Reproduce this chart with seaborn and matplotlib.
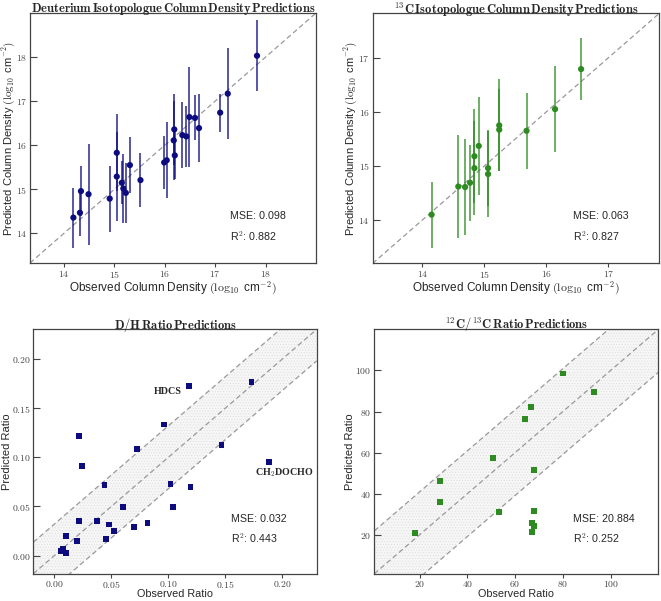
import numpy as np
import matplotlib
matplotlib.use("Agg")
import matplotlib.pyplot as plt
from matplotlib.ticker import FuncFormatter
import seaborn as sns

# deuterium isotopologue column densities
d_obs = [14.19, 14.32, 14.34, 14.49, 14.91, 15.05, 15.05, 15.15, 15.18, 15.23, 15.31, 15.52,
         15.99, 16.04, 16.18, 16.19, 16.20, 16.35, 16.43, 16.49, 16.60, 16.68, 17.10, 17.25, 17.83]
d_pred = [14.36, 14.47, 14.96, 14.89, 14.79, 15.83, 15.29, 15.15, 15.02, 14.92, 15.55, 15.21,
          15.61, 15.66, 16.11, 16.36, 15.77, 16.23, 16.20, 16.64, 16.62, 16.39, 16.74, 17.17, 18.03]
d_err = [0.68, 0.53, 0.56, 1.15, 0.75, 0.87, 1.00, 0.49, 0.78, 0.68, 0.63, 0.62,
         0.60, 0.86, 0.89, 0.81, 0.54, 0.74, 0.70, 1.14, 0.51, 0.77, 0.43, 1.03, 0.80]

# 13C isotopologue column densities
c_obs = [14.15, 14.58, 14.69, 14.77, 14.84, 14.84, 14.91, 15.06, 15.06, 15.24, 15.24, 15.68, 16.14, 16.56]
c_pred = [14.10, 14.62, 14.61, 14.69, 15.18, 14.96, 15.37, 14.96, 14.85, 15.75, 15.67, 15.65, 16.05, 16.79]
c_err = [0.61, 0.95, 0.88, 0.70, 0.87, 0.87, 0.90, 0.70, 0.80, 0.85, 0.76, 0.70, 0.80, 0.58]

# D/H ratios
dh_obs = [0.0053, 0.0073, 0.0105, 0.0102, 0.0202, 0.0219, 0.0219, 0.0243, 0.0374, 0.0439, 0.0450,
          0.0482, 0.0523, 0.0605, 0.0699, 0.0725, 0.0816, 0.0959, 0.1018, 0.1041, 0.1181, 0.1193,
          0.1465, 0.1728, 0.1883]
dh_pred = [0.0042, 0.0066, 0.0024, 0.0202, 0.0150, 0.0347, 0.1219, 0.0909, 0.0347, 0.0714, 0.0172,
           0.0316, 0.0249, 0.0492, 0.0286, 0.1088, 0.0333, 0.1333, 0.0731, 0.0492, 0.1724, 0.0697,
           0.1121, 0.1764, 0.0953]

# 12C/13C ratios
cc_obs = [17.9, 28.4, 28.4, 50.6, 53.4, 64.0, 66.6, 67.8, 67.8, 67.2, 68.0, 67.1, 79.9, 92.9]
cc_pred = [21.0, 46.0, 36.1, 57.4, 30.9, 76.5, 82.0, 51.4, 31.6, 25.6, 24.3, 21.2, 98.5, 89.4]

metrics = [("0.098", "0.882"), ("0.063", "0.827"), ("0.032", "0.443"), ("20.884", "0.252")]
band = [None, None, 0.032, 20.884]

sns.set_style("ticks")
plt.rcParams["mathtext.fontset"] = "cm"
plt.rcParams["font.family"] = ["Liberation Sans", "DejaVu Sans"]
plt.rcParams["hatch.linewidth"] = 0.4

fig = plt.figure(figsize=(6.61, 6.01), dpi=100)
rects = [[0.0454, 0.5624, 0.4327, 0.4160],
         [0.5638, 0.5618, 0.4336, 0.4160],
         [0.0504, 0.0454, 0.4287, 0.4065],
         [0.5663, 0.0454, 0.4297, 0.4065]]
axes = [fig.add_axes(r) for r in rects]

navy = "#0c0c80"
green = "#2e8b22"

titles = [r"$\mathbf{Deuterium\,Isotopologue\,Column\,Density\,Predictions}$",
          r"$\mathbf{^{13}C\,Isotopologue\,Column\,Density\,Predictions}$",
          r"$\mathbf{D/H\,Ratio\,Predictions}$",
          r"$\mathbf{^{12}C/^{13}C\,Ratio\,Predictions}$"]
lims = [(13.33, 19.0), (13.2, 17.82), (-0.0185, 0.23), (1.0, 120.0)]
ticks = [[14, 15, 16, 17, 18], [14, 15, 16, 17], [0.0, 0.05, 0.10, 0.15, 0.20], [20, 40, 60, 80, 100]]
xlabels = [r"Observed Column Density $(\log_{10}$ cm$^{-2})$"] * 2 + ["Observed Ratio"] * 2
ylabels = [r"Predicted Column Density $(\log_{10}$ cm$^{-2})$"] * 2 + ["Predicted Ratio"] * 2
ylab_x = [-0.047, -0.049, -0.075, -0.068]
xlab_y = [-0.066, -0.066, -0.063, -0.063]
xlab_size = [8.5, 8.5, 7.8, 7.8]
xpad = [1, 1, 0.5, 0.5]
title_y = [0.9985, 0.9985, 0.474, 0.474]

# column density panels with error bars
for ax, xs, ys, es, col in [(axes[0], d_obs, d_pred, d_err, navy), (axes[1], c_obs, c_pred, c_err, green)]:
    ax.errorbar(xs, ys, yerr=es, fmt="none", ecolor=col, elinewidth=1.3, alpha=0.75, zorder=2)
    sns.scatterplot(x=xs, y=ys, ax=ax, color=col, marker="o", s=20, edgecolor="none", zorder=3)

# ratio panels
for ax, xs, ys, col in [(axes[2], dh_obs, dh_pred, navy), (axes[3], cc_obs, cc_pred, green)]:
    sns.scatterplot(x=xs, y=ys, ax=ax, color=col, marker="s", s=18, edgecolor="none", zorder=3)

for i, ax in enumerate(axes):
    lo, hi = lims[i]
    line = np.array([lo, hi])
    ax.plot(line, line, color="#999999", ls="--", lw=0.9, dashes=(4, 2.5), zorder=1)
    if band[i] is not None:
        w = band[i]
        ax.fill_between(line, line - w, line + w, facecolor="#f6f6f6", edgecolor="#dedede",
                        hatch="......", linewidth=0, zorder=0)
        ax.plot(line, line + w, color="#999999", ls="--", lw=0.9, dashes=(4, 2.5), zorder=1)
        ax.plot(line, line - w, color="#999999", ls="--", lw=0.9, dashes=(4, 2.5), zorder=1)
    ax.set_xlim(lo, hi)
    ax.set_ylim(lo, hi)
    ax.set_xticks(ticks[i])
    ax.set_yticks(ticks[i])
    fmt = (lambda v, p: f"${v:.2f}$") if i == 2 else (lambda v, p: f"${v:g}$")
    ax.xaxis.set_major_formatter(FuncFormatter(fmt))
    ax.yaxis.set_major_formatter(FuncFormatter(fmt))
    ax.tick_params(labelsize=7, width=0.8, colors="#444444", labelcolor="#444444")
    ax.tick_params(axis="x", direction="out", length=3, pad=xpad[i])
    ax.tick_params(axis="y", direction="in", length=5, pad=2)
    for s in ax.spines.values():
        s.set_linewidth(0.9)
        s.set_color("#444444")
    # title placed by hand so it stays inside the canvas
    pos = ax.get_position()
    fig.text(pos.x0 + pos.width / 2, title_y[i], titles[i], fontsize=9, ha="center", va="top")
    ax.set_xlabel(xlabels[i], fontsize=xlab_size[i], va="top")
    ax.set_ylabel(ylabels[i], fontsize=8)
    ax.xaxis.set_label_coords(0.5, xlab_y[i])
    ax.yaxis.set_label_coords(ylab_x[i], 0.5)
    mse, r2 = metrics[i]
    ty = (0.188, 0.108) if i < 2 else (0.225, 0.146)
    ax.text(0.698, ty[0], f"MSE: {mse}", transform=ax.transAxes, fontsize=7.7, va="center")
    ax.text(0.698, ty[1], r"R$^2$: " + r2, transform=ax.transAxes, fontsize=7.7, va="center")

axes[2].text(0.0996, 0.1667, "HDCS", fontsize=7.2, fontweight="bold", family="Liberation Serif",
             ha="center", va="center")
axes[2].text(0.2018, 0.0848, r"CH$_\mathbf{2}$DOCHO", fontsize=7.2, fontweight="bold",
             family="Liberation Serif", ha="center", va="center")

fig.savefig("out.png", dpi=100)
